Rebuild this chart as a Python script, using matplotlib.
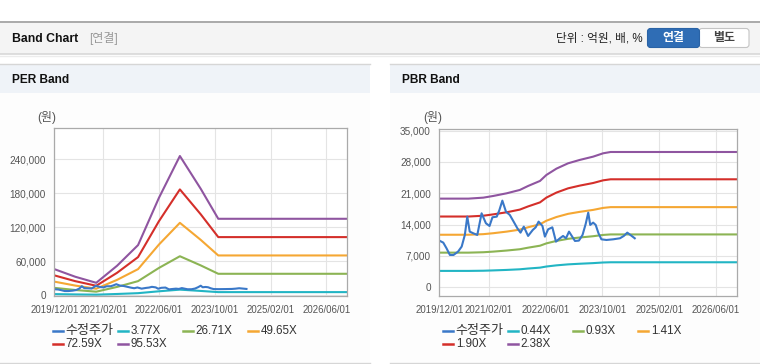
import matplotlib
matplotlib.use("Agg")
import matplotlib.pyplot as plt
import matplotlib.dates as mdates
from matplotlib.patches import Rectangle, FancyBboxPatch
from matplotlib.lines import Line2D
import pandas as pd

plt.rcParams['font.family'] = ['Liberation Sans', 'Noto Sans CJK KR', 'DejaVu Sans']

# ---- data ----
price_dates = ['2019-12-01', '2020-01-04', '2020-02-01', '2020-03-01', '2020-04-01', '2020-05-10',
               '2020-06-10', '2020-07-07', '2020-07-28', '2020-08-18', '2020-09-18', '2020-10-22',
               '2020-11-28', '2021-01-04', '2021-02-04', '2021-03-01', '2021-04-07', '2021-04-28',
               '2021-05-25', '2021-06-25', '2021-07-28', '2021-08-25', '2021-10-01', '2021-10-28',
               '2021-11-25', '2022-01-01', '2022-02-10', '2022-03-07', '2022-04-01', '2022-05-04',
               '2022-05-25', '2022-06-22', '2022-07-28', '2022-08-28', '2022-10-01', '2022-10-28',
               '2022-11-22', '2022-12-18', '2023-01-18', '2023-02-07', '2023-03-13', '2023-04-13',
               '2023-05-10', '2023-06-01', '2023-06-18', '2023-07-13', '2023-08-04', '2023-08-28',
               '2023-09-22', '2023-11-04', '2024-01-01', '2024-02-28', '2024-04-01', '2024-05-01',
               '2024-05-28', '2024-07-04']
price = [10430, 9980, 8710, 7220, 7220, 7970, 9090, 11690, 15790, 12440, 12060, 11690,
         16530, 14300, 13700, 15640, 15790, 17130, 19360, 16900, 16160, 14890, 13180, 12210,
         13550, 11470, 12810, 13400, 14670, 13700, 11320, 12960, 13400, 10200, 10950, 11470,
         10950, 12440, 11170, 10350, 10430, 11690, 14150, 16680, 13930, 14450, 13930, 12060,
         10720, 10570, 10720, 10950, 11470, 12210, 11690, 10950]

per_dates = ['2019-12-01', '2020-06-01', '2020-12-01', '2021-06-01', '2021-12-01', '2022-06-01',
             '2022-12-01', '2023-06-01', '2023-11-01', '2026-12-01']
per_labels = ['3.77X', '26.71X', '49.65X', '72.59X', '95.53X']
per_377 = [1815, 1280, 860, 2050, 3490, 6790, 9710, 7420, 5330, 5330]
per_2671 = [12860, 9090, 6100, 14540, 24750, 48090, 68780, 52560, 37750, 37750]
per_4965 = [23900, 16890, 11330, 27020, 45990, 89400, 127850, 97700, 70160, 70160]
per_7259 = [34960, 24700, 16570, 39520, 67260, 130700, 186960, 142900, 102600, 102600]
per_9553 = [46000, 32500, 21800, 52000, 88500, 172000, 246000, 188000, 135000, 135000]

pbr_dates = ['2019-12-01', '2020-08-07', '2020-12-13', '2021-03-07', '2021-07-01', '2021-10-22',
             '2022-01-01', '2022-04-13', '2022-06-07', '2022-09-01', '2022-12-10', '2023-03-19',
             '2023-07-13', '2023-10-07', '2023-12-10', '2026-12-01']
pbr_labels = ['0.44X', '0.93X', '1.41X', '1.90X', '2.38X']
pbr_044 = [3660, 3660, 3700, 3770, 3880, 4020, 4190, 4390, 4640, 4900, 5120, 5260, 5400, 5540, 5590, 5590]
pbr_093 = [7740, 7740, 7830, 7970, 8210, 8500, 8850, 9290, 9810, 10360, 10830, 11120, 11410, 11700, 11810, 11810]
pbr_141 = [11740, 11740, 11870, 12080, 12440, 12880, 13410, 14080, 14870, 15700, 16410, 16850, 17290, 17740, 17910, 17910]
pbr_190 = [15810, 15810, 15990, 16290, 16760, 17360, 18070, 18970, 20040, 21160, 22110, 22710, 23300, 23900, 24130, 24130]
pbr_238 = [19810, 19810, 20030, 20400, 21000, 21750, 22640, 23760, 25100, 26510, 27700, 28450, 29190, 29940, 30230, 30230]

x_ticks = ['2019-12-01', '2021-02-01', '2022-06-01', '2023-10-01', '2025-02-01', '2026-06-01']
per_yticks = [0, 60000, 120000, 180000, 240000]
pbr_yticks = [0, 7000, 14000, 21000, 28000, 35000]

price_color = '#3a78c8'
band_colors = ['#22b5c4', '#8cb454', '#f5a733', '#d42f2a', '#8f55a0']

W, H = 760, 364
fig = plt.figure(figsize=(W / 100, H / 100), dpi=100)

# background layer in pixel coordinates
bg = fig.add_axes([0, 0, 1, 1])
bg.set_xlim(0, W)
bg.set_ylim(H, 0)
bg.axis('off')

bg.add_patch(Rectangle((0, 0), W, H, color='white'))
bg.add_patch(Rectangle((0, 22), W, 32, facecolor='#f4f4f4', edgecolor='none'))
bg.plot([0, W], [22, 22], color='#a9a9a9', lw=1.4)
bg.plot([0, W], [54, 54], color='#d8d8d8', lw=1.2)
bg.plot([0, W], [55.5, 55.5], color='#ececec', lw=1.0)
bg.text(12, 38.5, 'Band Chart', fontsize=8.8, fontweight='bold', color='#111', va='center')
bg.text(89, 38.5, '[연결]', fontsize=8.6, color='#999', va='center')
bg.text(643, 38.5, '단위 : 억원, 배, %', fontsize=8.4, color='#222', va='center', ha='right')
bg.add_patch(FancyBboxPatch((699, 28.5), 50, 19, boxstyle='round,pad=0,rounding_size=3',
                            facecolor='white', edgecolor='#c4c4c4', lw=0.8))
bg.add_patch(FancyBboxPatch((647.5, 28.5), 52, 19, boxstyle='round,pad=0,rounding_size=3',
                            facecolor='#2f6db5', edgecolor='#2a63a6', lw=0.8))
bg.text(673.5, 38.5, '연결', fontsize=8.6, fontweight='bold', color='white', va='center', ha='center')
bg.text(724.5, 38.5, '별도', fontsize=8.6, fontweight='bold', color='#444', va='center', ha='center')

for px0, px1, title in [(0, 370, 'PER Band'), (390, 760, 'PBR Band')]:
    bg.add_patch(Rectangle((px0, 64), px1 - px0, 29, facecolor='#eff3f8', edgecolor='none'))
    bg.add_patch(Rectangle((px0, 93), px1 - px0, 269, facecolor='#fdfdfd', edgecolor='none'))
    bg.plot([px0, px1], [64.3, 64.3], color='#d6d6d6', lw=1.0)
    bg.plot([px0, px1], [362.5, 362.5], color='#d6d6d6', lw=1.0)
    bg.text(px0 + 12, 80, title, fontsize=8.6, fontweight='bold', color='#111', va='center')


def make_axes(left, top, right, bottom):
    return fig.add_axes([left / W, 1 - bottom / H, (right - left) / W, (bottom - top) / H])


def style_axes(ax, yticks, ylim):
    ax.set_facecolor('white')
    ax.set_xlim(pd.Timestamp('2019-12-01'), pd.Timestamp('2026-12-01'))
    ax.set_ylim(*ylim)
    ax.set_xticks(pd.to_datetime(x_ticks))
    ax.xaxis.set_major_formatter(mdates.DateFormatter('%Y/%m/%d'))
    ax.set_yticks(yticks)
    ax.set_yticklabels([f'{v:,}' for v in yticks])
    ax.grid(True, color='#e4e4e4', lw=0.8)
    ax.set_axisbelow(True)
    ax.tick_params(length=0, labelsize=7.2, colors='#555')
    ax.tick_params(axis='x', pad=7, labelsize=6.9)
    ax.tick_params(axis='y', pad=6)
    for sp in ax.spines.values():
        sp.set_color('#aaaaaa')
        sp.set_linewidth(0.9)


def legend_rows(x0, labels, colors):
    rows = [330.7, 343.7]
    items = list(zip(['수정주가'] + labels, [price_color] + colors))
    for i, (lab, col) in enumerate(items):
        r = 0 if i < 4 else 1
        c = i if i < 4 else i - 4
        y = rows[r]
        lx = x0 + c * 65
        bg.add_line(Line2D([lx, lx + 10.5], [y, y], color=col, lw=1.8))
        size = 9.4 if i == 0 else 8.4
        bg.text(lx + 13, y, lab, fontsize=size, color='#333', va='center')


# PER band
ax1 = make_axes(54.3, 128.3, 347.3, 295.7)
style_axes(ax1, per_yticks, (-1000, 295000))
for vals, col in zip([per_377, per_2671, per_4965, per_7259, per_9553], band_colors):
    ax1.plot(pd.to_datetime(per_dates), vals, color=col, lw=1.5)
ax1.plot(pd.to_datetime(price_dates), price, color=price_color, lw=1.5)
bg.text(37, 118, '(원)', fontsize=8.6, color='#555', va='center')
legend_rows(52.7, per_labels, band_colors)

# PBR band
ax2 = make_axes(439.3, 129.3, 737.3, 295.7)
style_axes(ax2, pbr_yticks, (-1880, 35300))
for vals, col in zip([pbr_044, pbr_093, pbr_141, pbr_190, pbr_238], band_colors):
    ax2.plot(pd.to_datetime(pbr_dates), vals, color=col, lw=1.5)
ax2.plot(pd.to_datetime(price_dates), price, color=price_color, lw=1.5)
bg.text(423, 117, '(원)', fontsize=8.6, color='#555', va='center')
legend_rows(442.7, pbr_labels, band_colors)

fig.savefig('out.png', dpi=100)
